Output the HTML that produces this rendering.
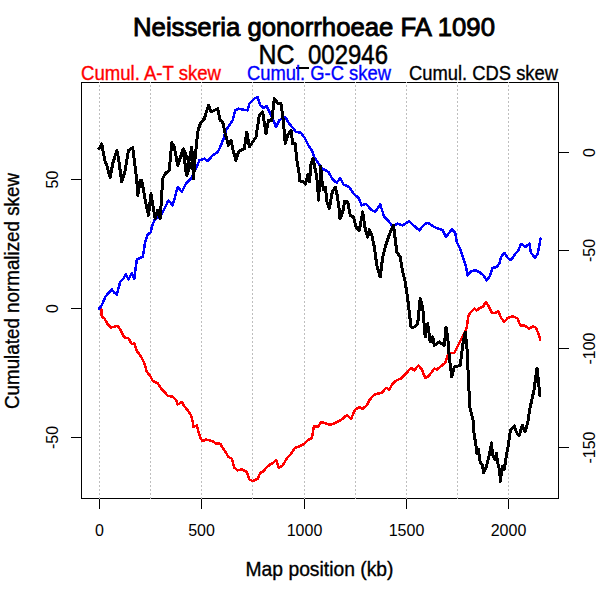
<!DOCTYPE html>
<html><head><meta charset="utf-8"><style>
html,body{margin:0;padding:0;background:#fff;width:600px;height:600px;overflow:hidden}
svg{position:absolute;left:0;top:0}
text{font-family:"Liberation Sans",sans-serif}
</style></head><body>
<svg width="600" height="600" viewBox="0 0 600 600" shape-rendering="crispEdges">
<rect x="0" y="0" width="600" height="600" fill="#fff"/>
<rect x="81.5" y="82.5" width="477" height="416" fill="none" stroke="#000" stroke-width="1"/>
<g stroke="#bebebe" stroke-width="1" stroke-dasharray="2 2" stroke-dashoffset="1"><line x1="99.5" y1="82" x2="99.5" y2="499"/><line x1="150.5" y1="82" x2="150.5" y2="499"/><line x1="201.5" y1="82" x2="201.5" y2="499"/><line x1="252.5" y1="82" x2="252.5" y2="499"/><line x1="304.5" y1="82" x2="304.5" y2="499"/><line x1="355.5" y1="82" x2="355.5" y2="499"/><line x1="406.5" y1="82" x2="406.5" y2="499"/><line x1="457.5" y1="82" x2="457.5" y2="499"/><line x1="508.5" y1="82" x2="508.5" y2="499"/></g>
<g shape-rendering="crispEdges" fill="none" stroke-width="2.5" stroke-linejoin="round" stroke-linecap="round">
<polyline stroke="#ff0000" points="99,308.5 101.3,309.2 101.8,316.7 104.3,318.3 107.7,324.2 111,327.5 114.3,326.7 117.7,325.8 121,330.8 124.3,337.5 128.5,338.3 131.8,344.2 134.3,343.3 136.8,350.8 141,356.7 144.3,363.3 146.8,371.7 150.2,375.8 152.7,380.8 157.7,383.3 161,388.3 164.3,391.7 167.7,395.8 172.7,396.7 176,400 177.7,404.5 181.8,402 184.3,406.2 187.7,410.3 191,415.3 192.7,422 193.5,427 196.8,425.3 198.5,432 200.2,437.8 202.7,441.2 206,439.5 212.7,441.2 216,443.7 220.2,443.7 222.7,447.8 226,452.8 228.5,457 231.8,458.7 234.3,467.8 237.7,470.3 241.8,469.5 246.8,472 249.3,479.5 252.7,481.2 257.7,478.7 260.2,472.8 263.5,471.2 266.8,467 270.2,464.5 273,463 276,460 279,468 283,465 287,458 291,454 295,448 300,446 304,444 308,440 312,438 314,426 318,427 321,422 325,423 330,425 335,423 341,420 347,415 351,419 355,410 359,407 362.7,408.7 366.8,405.3 369.3,400.3 374.3,394.5 381.8,392.8 386,387.8 389.3,389.5 392.7,383.7 397,380 401,378.7 406,373.7 411,367.8 414.3,370.3 418.5,365.3 421.8,369.5 425.2,377.8 428.5,376.2 434.3,368.7 436.8,369.5 441,366.2 445.2,362.8 448.5,353.7 454.3,352.8 458.5,344.5 461,339.5 464.3,333.7 466.8,327 468.5,315.3 471,312 474.3,308.7 476.8,310.3 480.2,307.8 482.7,307 486,302 488.5,306.2 491.8,312.8 495.2,312.8 498.5,311.2 501,317.8 504.3,322 507.7,317.8 512.7,316.2 517.7,318.7 520.2,325.3 524.3,325.3 529.3,328.7 532.7,326.2 536,327.8 538.5,333.7 540.2,339.5"/>
<polyline stroke="#0000ff" points="99,308.7 101.8,305.3 105.2,297 107.7,293.7 111.8,289.5 114.3,292.8 116.8,294.5 120.2,282 122.7,279.5 126,274.5 128.5,279.5 131.8,272.8 134.3,278.7 136.8,259.5 140.2,257.8 142.7,257 145.2,242 147.7,234.5 151,232 151.8,227 154.3,220.3 161,215.3 165.2,207 168.5,200.3 172.7,205.3 177.7,187 181.8,192 186,183.7 191,178.7 192.7,175.3 196.8,167 199.3,160.3 204.3,158.7 207.7,161.2 212.7,155.3 217.7,152 221,145.3 223.5,138.7 226,130.3 229.3,125.3 232.7,120.3 235.2,110.3 238.5,108.7 242.7,109.5 247.7,110.3 249.3,103.7 254.3,98.7 257.7,97 260.2,105.3 263.5,107.8 266.8,106.2 270.2,113.7 273.5,120.3 276,127 279.3,120.3 285.2,117 289.3,123.7 293.5,128.7 296,132 301,132.8 305.2,138.7 308.5,145.3 311.8,150.3 314.3,157 318.5,163.7 322.7,168.7 328.5,172 332.7,179.5 336.8,182.8 340.2,177.8 343.5,184.5 349.3,187 353.5,193.7 358.5,197.8 361.8,205.3 366,203.7 371,209.5 375.2,212 380.2,204.5 384.3,217 388.5,221.2 392.7,226.2 397.7,223.7 402.7,225.3 409.3,221.2 413.5,225.3 419.3,230.3 424.3,224.5 427.7,222.8 434.3,227 442.7,230.3 446,237 451.8,229.5 455.2,232.8 456.8,242 460.2,248.7 462.7,257 465.2,263.7 467.7,275.3 471,271.2 475.2,270.3 479.3,272 483.5,275.3 486.8,280.3 490.2,275.3 492.7,267.8 496.8,267 499.3,263.7 501,257 504.3,252.8 507.7,257.8 511,260.3 515.2,253.7 518.5,250.3 521,243.7 525.2,247 529.3,243.7 531,252.8 535.2,257.8 537.7,253.7 539.3,245.3 540.5,238.7"/>
<polyline stroke="#000000" stroke-width="3.0" points="99,148.7 101.8,144 103.5,153.7 105.2,162 106.8,165.3 110.2,177.8 112.7,163.7 116.8,150.3 118.5,158.7 121.8,182 125.2,170.3 128.5,150.3 132.7,147.8 134.3,160.3 136.8,180.3 137.7,195.3 140.2,180.3 141.8,180.3 145.2,200.3 148.5,215.3 151,193.7 155.2,218.7 157.7,210.3 160.2,218.7 162.7,178.7 165.2,173.7 169.3,170.3 171.8,142.8 174.3,147 177.7,165.3 182.7,150.3 184.3,158.7 186.8,175.3 190.2,165.3 183.5,148.7 186,172 188.5,163.7 191.8,147 193.5,178.7 195.2,157 197.7,132 200.2,123.7 204.3,118.7 208.5,105.3 211,112 214.3,110.3 217.7,108.7 220.2,120.3 222.7,122 225.2,133.7 228.5,145.3 231,140.3 233.5,152 236,160.3 238.5,152 241,150.3 244.3,148.7 246.8,132 249.3,147 252.7,142 256,137 259.3,115.3 262.7,112 266,133.7 268.5,120.3 271.8,120.3 274.3,98.7 276.8,102 278.5,103.7 281,103.7 282.7,115.3 284.3,132 285.2,143.7 287.7,135.3 291,130.3 292.7,143.7 295.2,143.7 296.8,159.3 299.1,173.3 299.7,181 302.6,181 305.5,184.4 307.8,174.5 309.6,181.5 310.8,165.2 313.1,158.2 314.3,165.2 316,173.3 317.8,185 318.3,200.2 320.1,179.2 320.7,166.3 321.8,180.3 323.6,189.7 325.3,187.3 327.1,202.5 329.4,208.3 332.3,192 335.3,187.3 337,194.3 338.8,206 340,218.8 342.8,211.8 344.6,201.3 347.7,202 350.2,215.3 353.5,217 356,227 359.3,230.3 362.7,212 365.2,228.7 367.7,237 369.3,229.5 371.8,235.3 374.3,247 376.8,265.3 380.2,277 382.7,257 385.2,247 388.5,237 391.8,228.7 393.5,225.3 396.8,252 400.2,257 402.7,272 405.2,282 407.7,298.7 411,327 414.3,327 417.7,323.7 420.2,298.7 422.7,307 425.2,337 427.7,323.7 430.2,342 432.7,337 434.3,345.3 439.3,342 444.3,345.3 446,327 447.7,337 449.3,357 451.8,377 454.3,367 460.2,365.3 462.7,345.3 465.2,332 466.8,345.3 467.7,362 468.5,382 470,408 473,420 473.7,430.7 475.7,444 477,453.3 478.3,449.3 480.3,462.7 482.3,465.3 483.7,472.7 486.3,466.7 489,456 491.7,442.7 492.3,454.7 495,460 496.3,453.3 498.3,465.3 499.7,470.7 500.3,481.3 502.3,466.7 504.3,469.3 506.3,456 508.3,445.3 510.3,430.7 514.3,426 516.3,432 519,436 522.3,425.3 525,432 527.7,422.7 530,408 534,390 537,368 540,396"/>
</g>
<g stroke="#000" stroke-width="1"><line x1="99.5" y1="499" x2="99.5" y2="509"/><line x1="201.5" y1="499" x2="201.5" y2="509"/><line x1="304.5" y1="499" x2="304.5" y2="509"/><line x1="406.5" y1="499" x2="406.5" y2="509"/><line x1="508.5" y1="499" x2="508.5" y2="509"/><line x1="71" y1="179.5" x2="81" y2="179.5"/><line x1="71" y1="308.5" x2="81" y2="308.5"/><line x1="71" y1="437.5" x2="81" y2="437.5"/><line x1="558" y1="152.5" x2="569" y2="152.5"/><line x1="558" y1="250.5" x2="569" y2="250.5"/><line x1="558" y1="348.5" x2="569" y2="348.5"/><line x1="558" y1="447.5" x2="569" y2="447.5"/></g>
<g font-size="26.3" fill="#000" stroke="#000" stroke-width="0.9"><text x="133" y="35.8" textLength="362" lengthAdjust="spacingAndGlyphs">Neisseria gonorrhoeae FA 1090</text></g>
<g font-size="27.5" fill="#000" stroke="#000" stroke-width="0.5"><text x="258.5" y="63.8" textLength="36" lengthAdjust="spacingAndGlyphs">NC</text><text x="308" y="63.8" textLength="80" lengthAdjust="spacingAndGlyphs">002946</text></g><rect x="296" y="67" width="13" height="2" fill="#000"/>
<g font-size="20.2">
<text x="81" y="80" fill="#ff0000" stroke="#ff0000" stroke-width="0.35" textLength="140" lengthAdjust="spacingAndGlyphs">Cumul. A-T skew</text>
<text x="247" y="80" fill="#0000ff" stroke="#0000ff" stroke-width="0.35" textLength="144" lengthAdjust="spacingAndGlyphs">Cumul. G-C skew</text>
<text x="409" y="80" fill="#000" stroke="#000" stroke-width="0.35" textLength="149" lengthAdjust="spacingAndGlyphs">Cumul. CDS skew</text>
</g>

<g font-size="16" fill="#000" text-anchor="middle">
<text x="99.5" y="536">0</text><text x="201.5" y="536">500</text><text x="304.5" y="536">1000</text><text x="406.5" y="536">1500</text><text x="508.5" y="536">2000</text>
<text transform="translate(57.5,179.5) rotate(-90)">50</text>
<text transform="translate(57.5,308.5) rotate(-90)">0</text>
<text transform="translate(57.5,437.5) rotate(-90)">-50</text>
<text transform="translate(595,152.5) rotate(-90)">0</text>
<text transform="translate(595,250.5) rotate(-90)">-50</text>
<text transform="translate(595,348.5) rotate(-90)">-100</text>
<text transform="translate(595,447.5) rotate(-90)">-150</text>
</g>
<g font-size="20.2" fill="#000" stroke="#000" stroke-width="0.35">
<text x="245.5" y="575.8" textLength="148" lengthAdjust="spacingAndGlyphs">Map position (kb)</text>
<text transform="translate(19.3,409) rotate(-90)" textLength="236" lengthAdjust="spacingAndGlyphs">Cumulated normalized skew</text>
</g>
</svg>
</body></html>
